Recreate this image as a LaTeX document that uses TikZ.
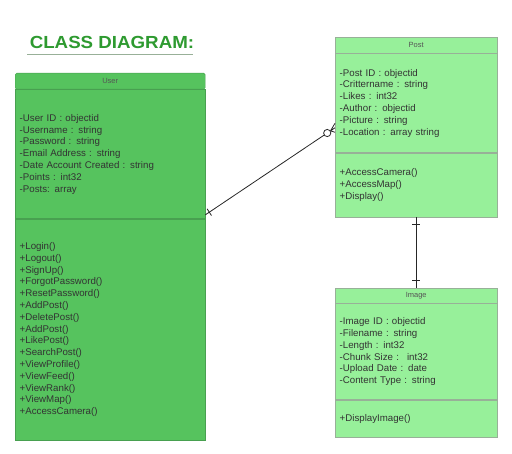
\documentclass[tikz,border=0pt]{standalone}
\usepackage{fontspec}
\setmainfont{Liberation Sans}
\usetikzlibrary{calc}
\definecolor{userfill}{HTML}{56C35E}
\definecolor{userline}{HTML}{48A050}
\definecolor{postfill}{HTML}{97F09A}
\definecolor{postline}{HTML}{98B098}
\definecolor{titlegreen}{HTML}{2E9A30}
\definecolor{headgray}{HTML}{555555}

\begin{document}
\begin{tikzpicture}[x=1pt,y=-1pt,
	cls/.style={draw,rectangle,anchor=north west,inner xsep=4.5pt,inner ysep=0pt,
		align=left,font=\fontsize{9.7}{11.8}\selectfont,text=black!80},
	ucls/.style={cls,fill=userfill,draw=userline,text width=181pt},
	pcls/.style={cls,fill=postfill,draw=postline,text width=153pt},
	head/.style={align=center,font=\fontsize{7.5}{9}\selectfont,text=headgray},
	link/.style={draw=black!85,line width=0.8pt}]
	\useasboundingbox (0,0) rectangle (512,454);

	% title
	\node[anchor=west,text=titlegreen,font=\fontsize{17.5}{20}\selectfont\bfseries,xscale=1.07] (Title) at (26,42) {CLASS DIAGRAM:};
	\draw[postline,line width=0.8pt] (27,54) -- (193,54);

	% User
	\node[ucls,head,minimum height=16pt,rounded corners=1.5pt] (UserHead) at (15,73) {User};
	\node[ucls,minimum height=129pt] (UserAttr) at (UserHead.south west) {-User ID : objectid\\-Username : string\\-Password : string\\-Email Address : string\\-Date Account Created : string\\-Points : int32\\-Posts: array};
	\node[ucls,minimum height=221pt] (UserOps) at (UserAttr.south west) {+Login()\\+Logout()\\+SignUp()\\+ForgotPassword()\\+ResetPassword()\\+AddPost()\\+DeletePost()\\+AddPost()\\+LikePost()\\+SearchPost()\\+ViewProfile()\\+ViewFeed()\\+ViewRank()\\+ViewMap()\\+AccessCamera()};

	% Post
	\node[pcls,head,minimum height=16pt] (PostHead) at (335,37) {Post};
	\node[pcls,minimum height=99pt] (PostAttr) at (PostHead.south west) {-Post ID : objectid\\-Crittername : string\\-Likes : int32\\-Author : objectid\\-Picture : string\\-Location : array string};
	\node[pcls,minimum height=64pt] (PostOps) at (PostAttr.south west) {+AccessCamera()\\+AccessMap()\\+Display()};

	% Image
	\node[pcls,head,minimum height=15pt] (ImageHead) at (335,288) {Image};
	\node[pcls,minimum height=96pt] (ImageAttr) at (ImageHead.south west) {-Image ID : objectid\\-Filename : string\\-Length : int32\\-Chunk Size :~ int32\\-Upload Date : date\\-Content Type : string};
	\node[pcls,minimum height=37pt] (ImageOps) at (ImageAttr.south west) {+DisplayImage()};

	% User -- Post (one to zero or many)
	\coordinate (UP1) at ([yshift=4pt]UserAttr.south east);
	\coordinate (UP2) at ([yshift=25pt]PostAttr.south west);
	\draw[link] (UP1) -- ($(UP1)!0.915!(UP2)$) coordinate (UPc);
	\draw[link] ($(UP1)!0.03!(UP2)$) ++(-2.2,-3.4) -- ++(4.4,6.8);
	\draw[link,fill=white] ($(UP1)!0.94!(UP2)$) circle (3.6pt);
	\draw[link] ($(UP1)!0.965!(UP2)$) -- ([yshift=-4.5pt]UP2)
		($(UP1)!0.965!(UP2)$) -- (UP2)
		($(UP1)!0.965!(UP2)$) -- ([yshift=4.5pt]UP2);

	% Post -- Image (one to one)
	\draw[link] (PostOps.south) -- (ImageHead.north);
	\draw[link] ([yshift=-7pt]PostOps.south) ++(-4,0) -- ++(8,0);
	\draw[link] ([yshift=8pt]ImageHead.north) ++(-4,0) -- ++(8,0);
\end{tikzpicture}
\end{document}
